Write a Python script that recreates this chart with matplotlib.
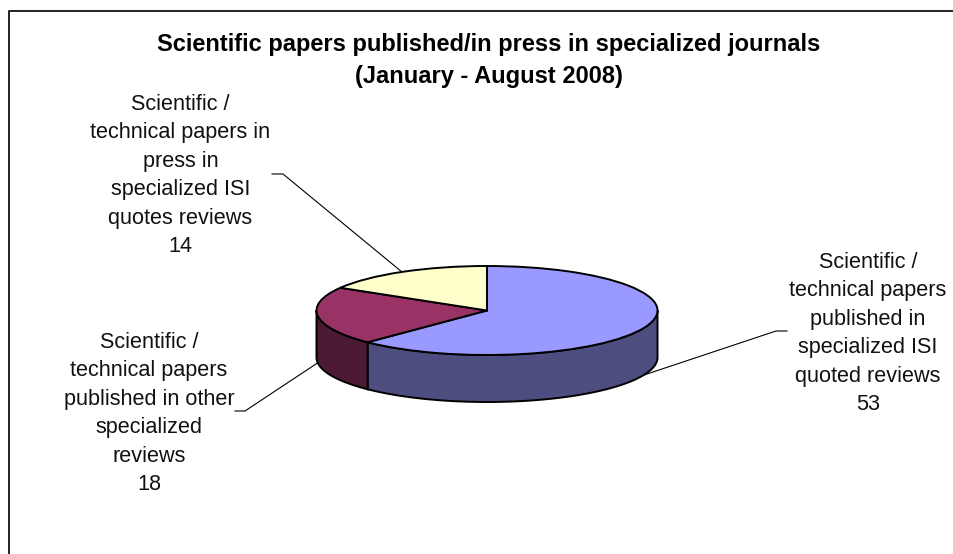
import numpy as np
import matplotlib
matplotlib.use("Agg")
import matplotlib.pyplot as plt

W, H = 954, 554
CX, CY = 487, 310.5
RX, RY, DEPTH = 170.5, 44.5, 47

title_lines = ["Scientific papers published/in press in specialized journals",
               "(January - August 2008)"]
categories = ["Scientific /\ntechnical papers\npublished in\nspecialized ISI\nquoted reviews",
              "Scientific /\ntechnical papers\npublished in other\nspecialized\nreviews",
              "Scientific /\ntechnical papers in\npress in\nspecialized ISI\nquotes reviews"]
values = [53, 18, 14]
top_colors = ["#9999FF", "#993366", "#FFFFCC"]
side_colors = ["#4D4D80", "#4D1A33", "#808066"]

plt.rcParams['font.family'] = ['Liberation Sans', 'DejaVu Sans']

fig = plt.figure(figsize=(W / 100, H / 100), dpi=100)
ax = fig.add_axes([0, 0, 1, 1])

# pie first, it resets the limits so they are set afterwards
wedges, _ = ax.pie(values, colors=top_colors, startangle=90, counterclock=False,
                   wedgeprops=dict(edgecolor='black', linewidth=1.4))
for w in wedges:
    w.set_zorder(3)

# one data unit is RX wide and RY high, so the circle comes out as the ellipse
ax.set_aspect('auto')
ax.set_xlim(-CX / RX, (W - CX) / RX)
ax.set_ylim(-(H - CY) / RY, CY / RY)
ax.axis('off')

# side wall of the visible (front) half
drop = DEPTH / RY
fracs = np.cumsum([0] + values) / sum(values)
for i in range(len(values)):
    a0 = fracs[i] * 2 * np.pi
    a1 = fracs[i + 1] * 2 * np.pi
    lo = max(a0, np.pi / 2)
    hi = min(a1, 3 * np.pi / 2)
    if hi <= lo:
        continue
    t = np.linspace(lo, hi, 100)
    x = np.sin(t)
    y = np.cos(t)
    xs = np.concatenate([x, x[::-1]])
    ys = np.concatenate([y, y[::-1] - drop])
    ax.fill(xs, ys, facecolor=side_colors[i], edgecolor='black', linewidth=1.4, zorder=2)


def px(x, y):
    return (x - CX) / RX, (CY - y) / RY


# leader lines, the ends run under the pie
leaders = [[(635, 378), (776, 331), (787, 331)],
           [(322, 360), (245, 411), (235, 411)],
           [(402, 272), (283, 174), (272, 174)]]
for pts in leaders:
    xy = np.array([px(*p) for p in pts])
    ax.plot(xy[:, 0], xy[:, 1], color='black', linewidth=0.8, zorder=1)

# title
for line, y in zip(title_lines, [45, 77]):
    ax.text(*px(488.5, y), line, fontsize=17.0, fontweight='bold', ha='center', va='center')

# labels, count on the last line
label_pos = [(868, 333.5), (149, 413.5), (180.5, 175.5)]
for name, val, pos in zip(categories, values, label_pos):
    ax.text(*px(*pos), name + "\n" + str(val), fontsize=15.6, ha='center', va='center',
            linespacing=1.46, color='#111111')

# chart border, only top and left fall inside the image
bx = [9, 9, 954]
by = [554, 11, 11]
xy = np.array([px(a, b) for a, b in zip(bx, by)])
ax.plot(xy[:, 0], xy[:, 1], color='#222222', linewidth=1.4)

fig.savefig("out.png", dpi=100)
